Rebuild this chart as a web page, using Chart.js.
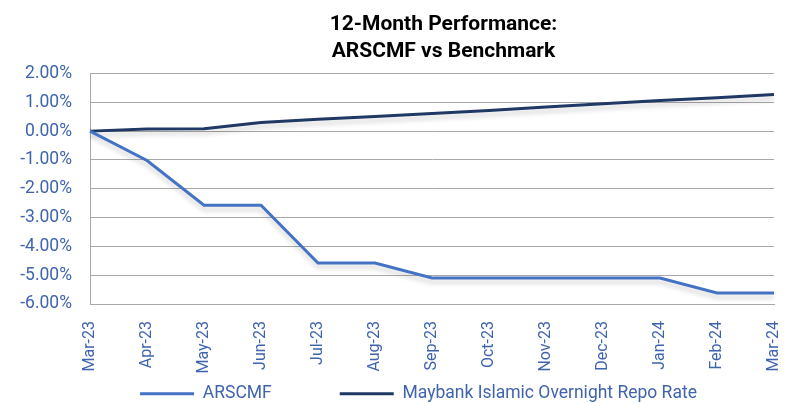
<!DOCTYPE html>
<html>
<head>
<meta charset="utf-8">
<script src="https://cdn.jsdelivr.net/npm/chart.js@4"></script>
<style>
  html, body { margin: 0; padding: 0; background: #fff; }
  #wrap { width: 787px; height: 403px; }
</style>
</head>
<body>
<div id="wrap"><canvas id="perfChart"></canvas></div>
<script>
// data
const months = ["Mar-23", "Apr-23", "May-23", "Jun-23", "Jul-23", "Aug-23", "Sep-23",
  "Oct-23", "Nov-23", "Dec-23", "Jan-24", "Feb-24", "Mar-24"];
const arscmf = [0, -1.02, -2.57, -2.57, -4.58, -4.58, -5.1, -5.1, -5.1, -5.1, -5.1, -5.62, -5.62];
const benchmark = [0, 0.07, 0.08, 0.3, 0.41, 0.51, 0.61, 0.72, 0.84, 0.95, 1.06, 1.16, 1.27];
const titleLines = ["12-Month Performance:", "ARSCMF vs Benchmark"];

const tickBlue = "#3f64ae";
const legendGap = 68;

// legend: wide gap between the two items but not a tall box
const legendFix = {
  id: "legendFix",
  afterInit(chart) {
    const lg = chart.legend;
    const origFit = lg.fit;
    lg.fit = function () {
      origFit.call(this);
      this.height = 19;
    };
  },
  afterLayout(chart) {
    // centre title and legend over the plot, like the original
    const t = chart.titleBlock;
    if (t) { t.left += 50; t.right += 50; }
    const l = chart.legend;
    if (l) {
      l.left += 25; l.right += 25;
      l.top -= legendGap - 1;
    }
  }
};

// soft shadow under the lines
const lineShadow = {
  id: "lineShadow",
  beforeDatasetDraw(chart) {
    const c = chart.ctx;
    c.save();
    c.shadowColor = "rgba(0,0,0,0.18)";
    c.shadowBlur = 5;
    c.shadowOffsetY = 4;
  },
  afterDatasetDraw(chart) {
    chart.ctx.restore();
  }
};

new Chart(document.getElementById("perfChart"), {
  type: "line",
  data: {
    labels: months,
    datasets: [
      {
        label: "ARSCMF",
        data: arscmf,
        borderColor: "#4472c4",
        backgroundColor: "#4472c4",
        borderWidth: 3,
        pointRadius: 0,
        tension: 0
      },
      {
        label: "Maybank Islamic Overnight Repo Rate",
        data: benchmark,
        borderColor: "#1f3864",
        backgroundColor: "#1f3864",
        borderWidth: 3,
        pointRadius: 0,
        tension: 0
      }
    ]
  },
  options: {
    responsive: true,
    maintainAspectRatio: false,
    animation: false,
    layout: { padding: { left: 0, right: 0, top: 0, bottom: 0 } },
    plugins: {
      title: {
        display: true,
        text: titleLines,
        color: "#000",
        font: { family: "Roboto", size: 21, weight: "bold", lineHeight: 1.25 },
        padding: { top: 12, bottom: 9 }
      },
      legend: {
        position: "bottom",
        labels: {
          color: tickBlue,
          font: { family: "Roboto", size: 17.5 },
          boxWidth: 54,
          boxHeight: 0,
          padding: legendGap
        }
      },
      tooltip: { enabled: false }
    },
    scales: {
      x: {
        offset: false,
        afterFit(scale) {
          scale.height = 80;
          scale.paddingRight = 13;
        },
        grid: { display: false },
        border: { display: true, color: "#a8a8a8" },
        ticks: {
          color: tickBlue,
          font: { family: "Roboto", size: 16 },
          minRotation: 90,
          maxRotation: 90,
          autoSkip: false,
          padding: 9
        }
      },
      y: {
        min: -6,
        max: 2,
        afterFit(scale) { scale.width = 90; },
        grid: { color: "#a8a8a8", lineWidth: 1, drawTicks: false },
        border: { display: true, color: "#a8a8a8" },
        ticks: {
          stepSize: 1,
          autoSkip: false,
          color: tickBlue,
          font: { family: "Roboto", size: 17.5 },
          padding: 18,
          callback: v => v.toFixed(2) + "%"
        }
      }
    }
  },
  plugins: [legendFix, lineShadow]
});
</script>
</body>
</html>
